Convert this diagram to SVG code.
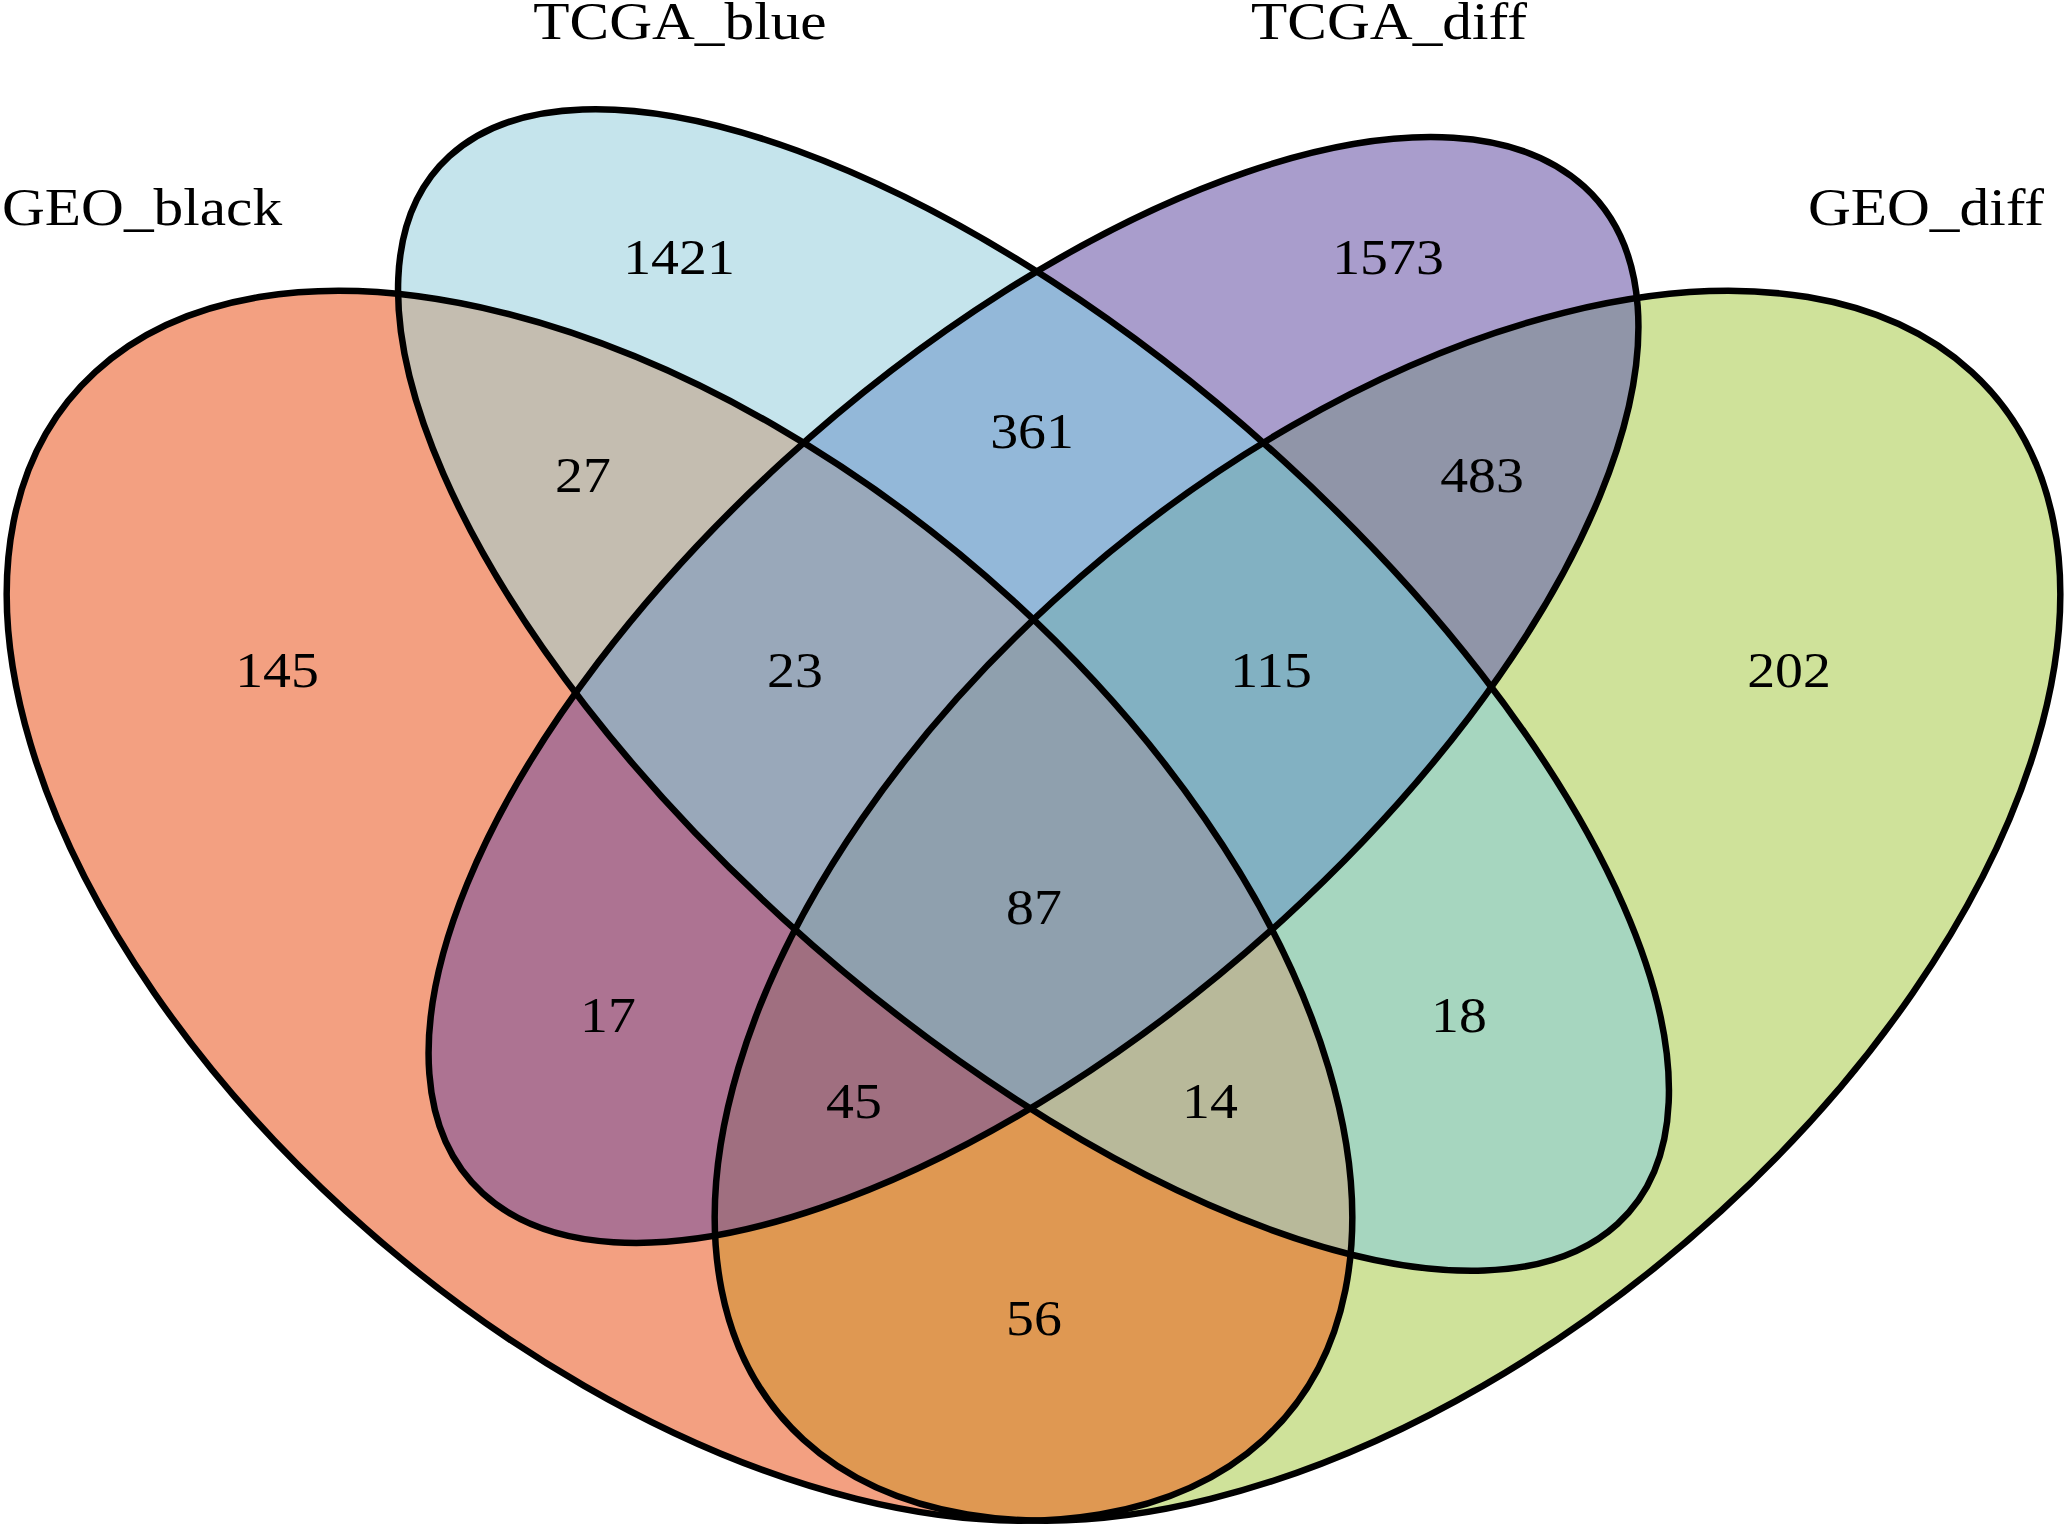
<svg xmlns="http://www.w3.org/2000/svg" width="2067" height="1528" viewBox="0 0 2067 1528">
<style>
.lbl{font-family:"Liberation Serif","Times New Roman",serif;font-size:53px;fill:#000;text-anchor:middle}
.num{font-family:"Liberation Serif","Times New Roman",serif;font-size:51px;fill:#000;text-anchor:middle}
.edge{fill:none;stroke:#000;stroke-width:6.5}
</style>
<defs>
<ellipse id="eA" cx="0.35" cy="0.47" rx="0.35" ry="0.2" transform="rotate(-45 0.35 0.47)"/>
<ellipse id="eB" cx="0.5" cy="0.57" rx="0.35" ry="0.15" transform="rotate(-45 0.5 0.57)"/>
<ellipse id="eC" cx="0.5" cy="0.57" rx="0.33" ry="0.15" transform="rotate(45 0.5 0.57)"/>
<ellipse id="eD" cx="0.65" cy="0.47" rx="0.35" ry="0.2" transform="rotate(45 0.65 0.47)"/>
<clipPath id="cA"><use href="#eA"/></clipPath>
<clipPath id="cB"><use href="#eB"/></clipPath>
<clipPath id="cC"><use href="#eC"/></clipPath>
</defs>
<rect width="2067" height="1528" fill="#fff"/>
<g id="regions" transform="matrix(2360 0 0 -2157 -146.5 1919.5)">
<use href="#eA" fill="#F3A081"/>
<use href="#eB" fill="#C5E4EC"/>
<use href="#eC" fill="#A99DCC"/>
<use href="#eD" fill="#CFE29A"/>
<g clip-path="url(#cA)"><use href="#eB" fill="#C4BDB0"/><use href="#eC" fill="#AD7392"/><use href="#eD" fill="#DF9852"/></g>
<g clip-path="url(#cB)"><use href="#eC" fill="#93B8D9"/><use href="#eD" fill="#A6D6BF"/></g>
<g clip-path="url(#cC)"><use href="#eD" fill="#9095A8"/></g>
<g clip-path="url(#cA)"><g clip-path="url(#cB)"><use href="#eC" fill="#99A8BA"/><use href="#eD" fill="#B8B99A"/></g><g clip-path="url(#cC)"><use href="#eD" fill="#A06F80"/></g></g>
<g clip-path="url(#cB)"><g clip-path="url(#cC)"><use href="#eD" fill="#82B1C2"/></g></g>
<g clip-path="url(#cA)"><g clip-path="url(#cB)"><g clip-path="url(#cC)"><use href="#eD" fill="#8FA0AE"/></g></g></g>
</g>
<g id="GEO_black">
<ellipse class="edge" vector-effect="non-scaling-stroke" cx="0.35" cy="0.47" rx="0.35" ry="0.2" transform="matrix(2360 0 0 -2157 -146.5 1919.5) rotate(-45 0.35 0.47)"/>
<text class="lbl" transform="translate(142 225) scale(1.12 1)">GEO_black</text>
</g>
<g id="TCGA_blue">
<ellipse class="edge" vector-effect="non-scaling-stroke" cx="0.5" cy="0.57" rx="0.35" ry="0.15" transform="matrix(2360 0 0 -2157 -146.5 1919.5) rotate(-45 0.5 0.57)"/>
<text class="lbl" transform="translate(680 39) scale(1.12 1)">TCGA_blue</text>
</g>
<g id="TCGA_diff">
<ellipse class="edge" vector-effect="non-scaling-stroke" cx="0.5" cy="0.57" rx="0.33" ry="0.15" transform="matrix(2360 0 0 -2157 -146.5 1919.5) rotate(45 0.5 0.57)"/>
<text class="lbl" transform="translate(1389 39) scale(1.12 1)">TCGA_diff</text>
</g>
<g id="GEO_diff">
<ellipse class="edge" vector-effect="non-scaling-stroke" cx="0.65" cy="0.47" rx="0.35" ry="0.2" transform="matrix(2360 0 0 -2157 -146.5 1919.5) rotate(45 0.65 0.47)"/>
<text class="lbl" transform="translate(1926 225) scale(1.12 1)">GEO_diff</text>
</g>
<g id="counts">
<text class="num" transform="translate(277 687) scale(1.094 1)">145</text>
<text class="num" transform="translate(679 274) scale(1.094 1)">1421</text>
<text class="num" transform="translate(1388 274) scale(1.094 1)">1573</text>
<text class="num" transform="translate(1789 687) scale(1.094 1)">202</text>
<text class="num" transform="translate(583 492) scale(1.094 1)">27</text>
<text class="num" transform="translate(1032 448) scale(1.094 1)">361</text>
<text class="num" transform="translate(1482 492) scale(1.094 1)">483</text>
<text class="num" transform="translate(795 687) scale(1.094 1)">23</text>
<text class="num" transform="translate(1271 687) scale(1.094 1)">115</text>
<text class="num" transform="translate(1034 924) scale(1.094 1)">87</text>
<text class="num" transform="translate(608 1032) scale(1.094 1)">17</text>
<text class="num" transform="translate(1459 1032) scale(1.094 1)">18</text>
<text class="num" transform="translate(854 1118) scale(1.094 1)">45</text>
<text class="num" transform="translate(1210 1118) scale(1.094 1)">14</text>
<text class="num" transform="translate(1034 1335) scale(1.094 1)">56</text>
</g>
</svg>
